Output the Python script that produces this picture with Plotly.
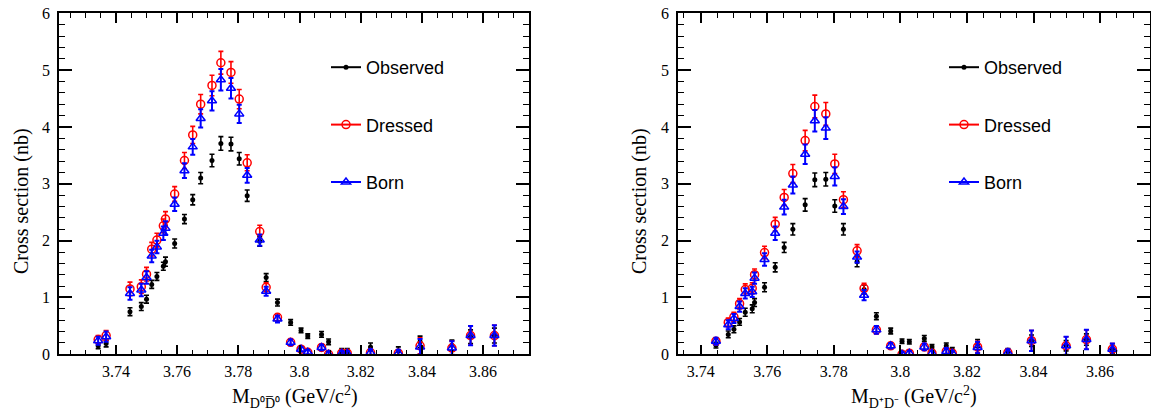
import plotly.graph_objects as go

# ---------------- data ----------------
energy = [3.7342, 3.7368, 3.7446, 3.7483, 3.7500, 3.7517, 3.7534, 3.7555, 3.7562, 3.7592,
          3.7624, 3.7651, 3.7677, 3.7714, 3.7743, 3.7776, 3.7803, 3.7829, 3.7870, 3.7891,
          3.7928, 3.7971, 3.8005, 3.8027, 3.8072, 3.8095, 3.8138, 3.8156, 3.8232, 3.8323,
          3.8394, 3.8498, 3.8559, 3.8637]

# D0 D0bar (left panel)
obs_l = [0.15, 0.19, 0.75, 0.84, 0.97, 1.23, 1.37, 1.55, 1.63, 1.95,
         2.38, 2.72, 3.10, 3.41, 3.71, 3.70, 3.44, 2.79, 1.99, 1.35,
         0.91, 0.56, 0.42, 0.32, 0.35, 0.22, 0.06, 0.06, 0.13, 0.06,
         0.22, 0.16, 0.31, 0.33]
obs_l_err = [0.05, 0.06, 0.07, 0.07, 0.07, 0.07, 0.07, 0.07, 0.08, 0.08,
             0.08, 0.09, 0.10, 0.11, 0.12, 0.12, 0.11, 0.10, 0.09, 0.07,
             0.06, 0.05, 0.04, 0.04, 0.05, 0.05, 0.04, 0.04, 0.07, 0.07,
             0.10, 0.09, 0.12, 0.13]
dre_l = [0.26, 0.33, 1.15, 1.19, 1.41, 1.85, 2.01, 2.26, 2.38, 2.82,
         3.41, 3.86, 4.40, 4.73, 5.13, 4.96, 4.49, 3.37, 2.16, 1.18,
         0.65, 0.21, 0.09, 0.035, 0.12, 0.0, 0.02, 0.02, 0.03, 0.02,
         0.15, 0.11, 0.33, 0.33]
dre_l_err = [0.07, 0.09, 0.12, 0.12, 0.12, 0.12, 0.12, 0.12, 0.13, 0.13,
             0.14, 0.15, 0.17, 0.18, 0.20, 0.19, 0.17, 0.14, 0.11, 0.08,
             0.06, 0.05, 0.04, 0.04, 0.05, 0.05, 0.04, 0.04, 0.06, 0.06,
             0.14, 0.12, 0.17, 0.18]
born_l = [0.24, 0.31, 1.07, 1.13, 1.35, 1.73, 1.89, 2.13, 2.22, 2.64,
          3.23, 3.65, 4.15, 4.46, 4.83, 4.68, 4.23, 3.15, 2.01, 1.11,
          0.62, 0.21, 0.09, 0.035, 0.12, 0.0, 0.02, 0.02, 0.03, 0.02,
          0.13, 0.11, 0.33, 0.33]
born_l_err = [0.07, 0.09, 0.11, 0.11, 0.11, 0.11, 0.11, 0.12, 0.12, 0.12,
              0.13, 0.14, 0.16, 0.17, 0.19, 0.18, 0.16, 0.13, 0.10, 0.08,
              0.06, 0.05, 0.04, 0.04, 0.05, 0.05, 0.04, 0.04, 0.06, 0.06,
              0.14, 0.12, 0.17, 0.18]

# D+ D- (right panel)
energy_r = energy[2:]
obs_r = [0.16, 0.35, 0.44, 0.57, 0.74, 0.80, 0.91, 1.18, 1.53, 1.88,
         2.20, 2.63, 3.07, 3.08, 2.61, 2.20, 1.63, 1.14, 0.67, 0.41,
         0.23, 0.22, 0.28, 0.13, 0.15, 0.08, 0.19, 0.05, 0.24, 0.15,
         0.26, 0.09]
obs_r_err = [0.05, 0.06, 0.06, 0.06, 0.07, 0.07, 0.07, 0.08, 0.08, 0.09,
             0.10, 0.11, 0.12, 0.12, 0.11, 0.10, 0.09, 0.08, 0.06, 0.05,
             0.04, 0.04, 0.05, 0.04, 0.05, 0.04, 0.07, 0.05, 0.10, 0.09,
             0.10, 0.07]
dre_r = [0.23, 0.56, 0.66, 0.89, 1.14, 1.16, 1.40, 1.79, 2.29, 2.76,
         3.18, 3.76, 4.36, 4.23, 3.35, 2.72, 1.82, 1.16, 0.43, 0.15,
         0.0, 0.02, 0.13, 0.02, 0.05, 0.02, 0.13, 0.03, 0.24, 0.15,
         0.26, 0.09]
dre_r_err = [0.06, 0.08, 0.08, 0.09, 0.10, 0.10, 0.10, 0.11, 0.12, 0.14,
             0.16, 0.18, 0.20, 0.20, 0.17, 0.14, 0.11, 0.09, 0.07, 0.05,
             0.04, 0.04, 0.06, 0.04, 0.06, 0.04, 0.10, 0.06, 0.18, 0.16,
             0.17, 0.10]
born_r = [0.23, 0.52, 0.63, 0.84, 1.07, 1.10, 1.34, 1.67, 2.13, 2.59,
          2.98, 3.52, 4.11, 3.98, 3.13, 2.60, 1.71, 1.04, 0.43, 0.15,
          0.0, 0.02, 0.13, 0.02, 0.05, 0.02, 0.12, 0.03, 0.24, 0.15,
          0.26, 0.09]
born_r_err = [0.06, 0.08, 0.08, 0.09, 0.09, 0.09, 0.10, 0.11, 0.12, 0.13,
              0.15, 0.17, 0.19, 0.19, 0.16, 0.13, 0.10, 0.09, 0.07, 0.05,
              0.04, 0.04, 0.06, 0.04, 0.06, 0.04, 0.10, 0.06, 0.18, 0.16,
              0.17, 0.10]

series_names = ["Observed", "Dressed", "Born"]
x_tick_vals = [3.74, 3.76, 3.78, 3.80, 3.82, 3.84, 3.86]
x_tick_text = ["3.74", "3.76", "3.78", "3.8", "3.82", "3.84", "3.86"]
y_tick_vals = [0, 1, 2, 3, 4, 5, 6]
y_tick_text = ["0", "1", "2", "3", "4", "5", "6"]
y_title = "Cross section (nb)"
x_title_l = "M<sub>D⁰D̅⁰</sub> (GeV/c<sup>2</sup>)"
x_title_r = "M<sub>D⁺D⁻</sub> (GeV/c<sup>2</sup>)"

# ---------------- styling ----------------
W, H = 1151, 416
SERIF = "Liberation Serif, Times New Roman, Times, serif"
SANS = "Liberation Sans, Arial, Helvetica, sans-serif"
styles = [
    dict(color="black", symbol="circle", size=5, lw=0, ew=1.6),
    dict(color="#ff0000", symbol="circle-open", size=8, lw=1.5, ew=1.6),
    dict(color="#0000ff", symbol="triangle-up-open", size=8, lw=1.5, ew=2.0),
]

fig = go.Figure()

panels = [
    ("x", "y", "legend", energy, [(obs_l, obs_l_err), (dre_l, dre_l_err), (born_l, born_l_err)]),
    ("x2", "y2", "legend2", energy_r, [(obs_r, obs_r_err), (dre_r, dre_r_err), (born_r, born_r_err)]),
]

for xa, ya, lg, xs, sets in panels:
    for name, st, (vals, errs) in zip(series_names, styles, sets):
        fig.add_trace(go.Scatter(
            x=xs, y=vals, mode="markers", xaxis=xa, yaxis=ya, showlegend=False,
            marker=dict(color=st["color"], symbol=st["symbol"], size=st["size"],
                        line=dict(color=st["color"], width=st["lw"])),
            error_y=dict(type="data", array=errs, visible=True, color=st["color"],
                         thickness=st["ew"], width=2.5),
        ))
    for name, st in zip(series_names, styles):
        fig.add_trace(go.Scatter(
            x=[None], y=[None], mode="lines+markers", name=name, xaxis=xa, yaxis=ya,
            legend=lg, legendgroup=lg + name, showlegend=True,
            line=dict(color=st["color"], width=2),
            marker=dict(color=st["color"], symbol=st["symbol"], size=st["size"],
                        line=dict(color=st["color"], width=st["lw"])),
        ))

tick_font = dict(family=SERIF, size=16, color="black")

def xaxis_cfg(domain, rng, anchor):
    return dict(domain=domain, range=rng, anchor=anchor, tickmode="array",
                tickvals=x_tick_vals, ticktext=x_tick_text, ticks="inside", ticklen=10,
                tickwidth=1.5, tickcolor="black", showline=True, linecolor="black",
                linewidth=1.5, mirror="ticks", showgrid=False, zeroline=False,
                tickfont=tick_font, automargin=False, ticklabelstandoff=2,
                minor=dict(tickmode="linear", tick0=3.74, dtick=0.005, ticks="inside",
                           ticklen=5, tickwidth=1, tickcolor="black", showgrid=False))

def yaxis_cfg(anchor):
    return dict(domain=[1 - 354.3 / H, 1 - 13.3 / H], range=[0, 6], anchor=anchor,
                tickmode="array", tickvals=y_tick_vals, ticktext=y_tick_text,
                ticks="inside", ticklen=13, tickwidth=1.5, tickcolor="black",
                showline=True, linecolor="black", linewidth=1.5, mirror="ticks",
                showgrid=False, zeroline=False, tickfont=tick_font, automargin=False,
                ticklabelstandoff=4,
                minor=dict(tickmode="linear", tick0=0, dtick=0.2, ticks="inside",
                           ticklen=6, tickwidth=1, tickcolor="black", showgrid=False))

leg_common = dict(xanchor="left", yanchor="top", font=dict(family=SANS, size=18, color="black"),
                  tracegroupgap=31, bgcolor="rgba(0,0,0,0)", itemwidth=30)

title_font = dict(family=SERIF, size=20, color="black")

fig.update_layout(
    width=W, height=H, margin=dict(l=0, r=0, t=0, b=0),
    paper_bgcolor="white", plot_bgcolor="white",
    xaxis=xaxis_cfg([59 / W, 529 / W], [3.7214, 3.875], "y"),
    yaxis=yaxis_cfg("x"),
    xaxis2=xaxis_cfg([678 / W, 1150 / W], [3.7332, 3.875], "y2"),
    yaxis2=yaxis_cfg("x2"),
    legend=dict(x=326 / W, y=1 - 49 / H, **leg_common),
    legend2=dict(x=944 / W, y=1 - 49 / H, **leg_common),
    annotations=[
        dict(text=y_title, x=22 / W, y=1 - 201 / H, xref="paper", yref="paper", textangle=-90,
             showarrow=False, font=title_font, xanchor="center", yanchor="middle"),
        dict(text=y_title, x=640 / W, y=1 - 201 / H, xref="paper", yref="paper", textangle=-90,
             showarrow=False, font=title_font, xanchor="center", yanchor="middle"),
        dict(text=x_title_l, x=295 / W, y=1 - 397 / H, xref="paper", yref="paper",
             showarrow=False, font=title_font, xanchor="center", yanchor="middle"),
        dict(text=x_title_r, x=914 / W, y=1 - 397 / H, xref="paper", yref="paper",
             showarrow=False, font=title_font, xanchor="center", yanchor="middle"),
    ],
)

fig.write_html("out.html", config={"displayModeBar": False},
               post_script="document.body.style.margin='0px';")
